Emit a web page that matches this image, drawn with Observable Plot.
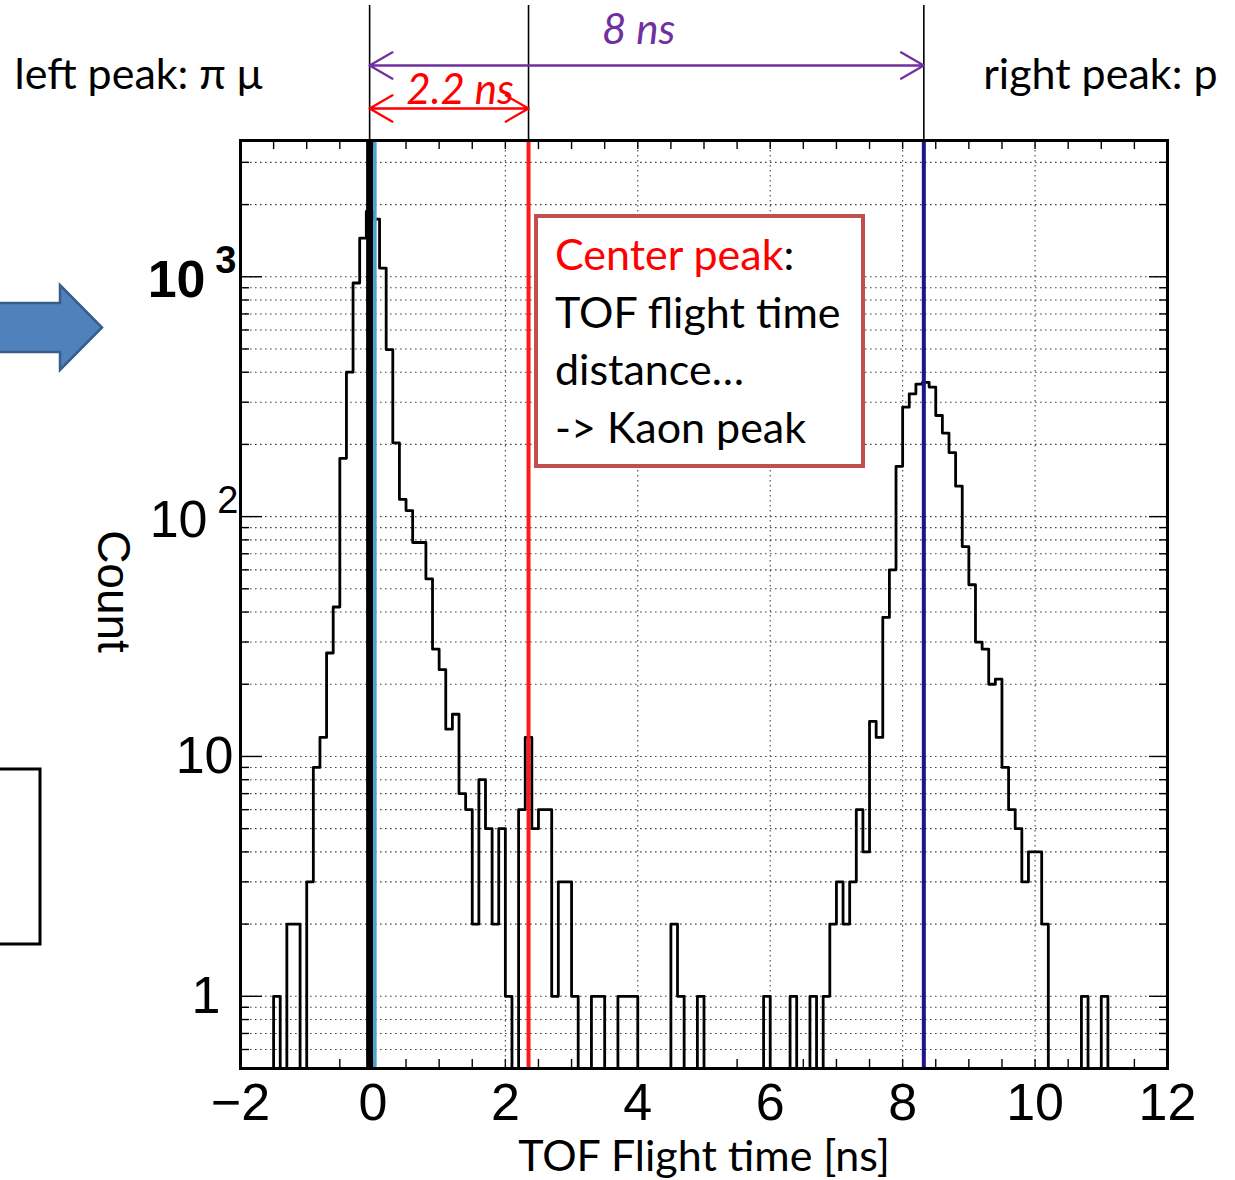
<!DOCTYPE html>
<html>
<head>
<meta charset="utf-8">
<script src="https://cdn.jsdelivr.net/npm/d3@7"></script>
<script src="https://cdn.jsdelivr.net/npm/@observablehq/plot@0.6"></script>
<style>
  html, body { margin: 0; padding: 0; background: #fff; }
  #wrap { position: relative; width: 1235px; height: 1180px; overflow: hidden; }
  #wrap svg { position: absolute; left: 0; top: 0; }
  .callout {
    position: absolute; left: 534px; top: 214px; width: 331px; height: 254px;
    box-sizing: border-box; border: 4px solid #c0504d; background: #fff;
    font-family: Lato, "Open Sans", sans-serif; font-size: 43px; line-height: 57.5px;
    padding: 7px 0 0 17px; color: #000; white-space: nowrap;
  }
  .callout .hl { color: #ff0000; }
</style>
</head>
<body>
<div id="wrap"></div>
<script>
// TOF histogram: 0.1 ns bins starting at -2 ns
const binStart = -2;
const binWidth = 0.1;
const counts = [
  0, 0, 0, 0, 0, 1, 0, 2, 2, 0,
  3, 9, 12, 27, 42, 175, 400, 942, 1449, 1872,
  1740, 1087, 497, 203, 118, 106, 78, 78, 55, 28,
  23, 13, 15, 7, 6, 2, 8, 5, 2, 5,
  1, 0, 6, 12, 5, 6, 6, 1, 3, 3,
  1, 0, 0, 1, 1, 0, 0, 1, 1, 1,
  0, 0, 0, 0, 0, 2, 1, 0, 0, 1,
  0, 0, 0, 0, 0, 0, 0, 0, 0, 1,
  0, 0, 0, 1, 0, 0, 1, 0, 1, 2,
  3, 2, 3, 6, 4, 14, 12, 38, 60, 162,
  286, 325, 357, 363, 347, 264, 223, 185, 134, 75,
  52, 30, 28, 20, 21, 9, 6, 5, 3, 4,
  4, 2, 0, 0, 0, 0, 0, 1, 0, 0,
  1, 0, 0, 0, 0, 0, 0, 0, 0, 0
];

// Peak marker positions [ns]
const piMuPeak = -0.05;
const piMuFit = 0.03;
const kaonPeak = 2.35;
const protonPeak = 8.32;

// Axis ticks and labels
const xTickValues = [-2, 0, 2, 4, 6, 8, 10, 12];
const xTickLabels = ["\u22122", "0", "2", "4", "6", "8", "10", "12"];
const xGridValues = [0, 2, 4, 6, 8, 10];
const xMinorTicks = d3.range(-1.5, 12, 0.5);
const yTickValues = [1, 10, 100, 1000];
const yTickMantissa = ["1", "10", "10", "10"];
const yTickExponent = ["", "", "2", "3"];
const yMinorValues = [0.6, 0.7, 0.8, 0.9, 2, 3, 4, 5, 6, 7, 8, 9,
  20, 30, 40, 50, 60, 70, 80, 90, 200, 300, 400, 500, 600, 700, 800, 900, 2000, 3000];
const yDomain = [0.5, 3700];

// Texts
const xLabel = "TOF Flight time [ns]";
const yLabel = "Count";
const leftNote = "left peak: \u03c0 \u03bc";
const rightNote = "right peak: p";
const kaonGap = "2.2 ns";
const protonGap = "8 ns";

const W = 1235, H = 1180;
const mL = 240, mR = 68, mT = 140, mB = 112;
const frameW = W - mL - mR, frameH = H - mT - mB;
const rootFont = "'Liberation Sans', Arial, Helvetica, sans-serif";
const slideFont = "Lato, 'Open Sans', sans-serif";

// step-line vertices: each bin start plus the closing edge; empty bins drop to the axis floor
const histPoints = counts.map((c, i) => ({t: binStart + i * binWidth, n: Math.max(c, yDomain[0])}));
histPoints.push({t: binStart + counts.length * binWidth, n: Math.max(counts[counts.length - 1], yDomain[0])});

const yLab = yTickValues.map((v, i) => ({v, m: yTickMantissa[i], e: yTickExponent[i]}));
const xLab = xTickValues.map((v, i) => ({v, t: xTickLabels[i]}));

const dotted = {stroke: "#444", strokeWidth: 1.1, strokeDasharray: "1.6,3.4"};
const mid = {lineAnchor: "middle"};

const chart = Plot.plot({
  width: W, height: H,
  marginLeft: mL, marginRight: mR, marginTop: mT, marginBottom: mB,
  x: {domain: [-2, 12], axis: null},
  y: {type: "log", domain: yDomain, axis: null},
  style: {background: "transparent", overflow: "visible"},
  marks: [
    // dotted grid
    Plot.ruleY(yMinorValues.concat(yTickValues), dotted),
    Plot.ruleX(xGridValues, dotted),
    // inner ticks, bottom and top
    Plot.ruleX(xMinorTicks, {insetTop: frameH - 9, stroke: "#000", strokeWidth: 1.4}),
    Plot.ruleX(xMinorTicks, {insetBottom: frameH - 9, stroke: "#000", strokeWidth: 1.4}),
    // inner ticks, left and right
    Plot.ruleY(yMinorValues, {insetRight: frameW - 9, stroke: "#000", strokeWidth: 1.4}),
    Plot.ruleY(yTickValues, {insetRight: frameW - 22, stroke: "#000", strokeWidth: 1.4}),
    Plot.ruleY(yMinorValues, {insetLeft: frameW - 8, stroke: "#000", strokeWidth: 1.4}),
    Plot.ruleY(yTickValues, {insetLeft: frameW - 18, stroke: "#000", strokeWidth: 1.4}),
    // histogram
    Plot.line(histPoints, {x: "t", y: "n", curve: "step-after", stroke: "#000", strokeWidth: 2.8}),
    // peak markers
    Plot.ruleX([piMuPeak], {stroke: "#000", strokeWidth: 7}),
    Plot.ruleX([piMuFit], {stroke: "#4ba3d2", strokeWidth: 3.5}),
    Plot.ruleX([kaonPeak], {stroke: "#ff1a1a", strokeWidth: 4}),
    Plot.ruleX([protonPeak], {stroke: "#1f1488", strokeWidth: 4}),
    Plot.frame({stroke: "#000", strokeWidth: 3}),
    // marker lines continued above the frame
    Plot.ruleX([piMuPeak, kaonPeak, protonPeak], {insetTop: -135, insetBottom: frameH, stroke: "#000", strokeWidth: 1.6}),
    // distance arrows (double-headed)
    Plot.arrow([{a: piMuPeak, b: protonPeak}, {a: protonPeak, b: piMuPeak}], {
      x1: "a", x2: "b", y1: yDomain[1], y2: yDomain[1], dy: -75,
      stroke: "#7030a0", strokeWidth: 2.2, headLength: 18, bend: 0
    }),
    Plot.arrow([{a: piMuPeak, b: kaonPeak}, {a: kaonPeak, b: piMuPeak}], {
      x1: "a", x2: "b", y1: yDomain[1], y2: yDomain[1], dy: -32,
      stroke: "#ff0000", strokeWidth: 2.2, headLength: 18, bend: 0
    }),
    Plot.text([protonGap], {...mid, x: [(piMuPeak + protonPeak) / 2], frameAnchor: "top", dx: -8, dy: -110,
      fill: "#7030a0", fontStyle: "italic", fontFamily: slideFont, fontSize: 42}),
    Plot.text([kaonGap], {...mid, x: [(piMuPeak + kaonPeak) / 2], frameAnchor: "top", dx: 11, dy: -50,
      fill: "#ff0000", fontStyle: "italic", fontFamily: slideFont, fontSize: 42}),
    Plot.text([leftNote], {...mid, frameAnchor: "top-left", textAnchor: "start", dx: -226, dy: -65,
      fill: "#000", fontFamily: slideFont, fontSize: 43}),
    Plot.text([rightNote], {...mid, frameAnchor: "top-right", textAnchor: "end", dx: 50, dy: -65,
      fill: "#000", fontFamily: slideFont, fontSize: 43}),
    // x tick labels and title
    Plot.text(xLab, {...mid, x: "v", text: "t", frameAnchor: "bottom", dy: 35, fontFamily: rootFont, fontSize: 52, fill: "#000"}),
    Plot.text([xLabel], {...mid, frameAnchor: "bottom", dy: 89, fontFamily: slideFont, fontSize: 43, fill: "#000"}),
    // y tick labels
    Plot.text(yLab.filter(d => d.m === "1"), {...mid, y: "v", text: "m", frameAnchor: "left", textAnchor: "end", dx: -20, fontFamily: rootFont, fontSize: 52, fill: "#000"}),
    Plot.text(yLab.filter(d => d.m === "10" && !d.e), {...mid, y: "v", text: "m", frameAnchor: "left", textAnchor: "end", dx: -7, fontFamily: rootFont, fontSize: 52, fill: "#000"}),
    Plot.text(yLab.filter(d => d.e === "2"), {...mid, y: "v", text: "m", frameAnchor: "left", textAnchor: "end", dx: -33, dy: 4, fontFamily: rootFont, fontSize: 52, fill: "#000"}),
    Plot.text(yLab.filter(d => d.e === "2"), {...mid, y: "v", text: "e", frameAnchor: "left", textAnchor: "end", dx: -2, dy: -16, fontFamily: rootFont, fontSize: 38, fill: "#000"}),
    Plot.text(yLab.filter(d => d.e === "3"), {...mid, y: "v", text: "m", frameAnchor: "left", textAnchor: "end", dx: -35, dy: 4, fontFamily: rootFont, fontSize: 52, fontWeight: 600, fill: "#000"}),
    Plot.text(yLab.filter(d => d.e === "3"), {...mid, y: "v", text: "e", frameAnchor: "left", textAnchor: "end", dx: -4, dy: -16, fontFamily: rootFont, fontSize: 38, fontWeight: 600, fill: "#000"}),
    Plot.text([yLabel], {...mid, frameAnchor: "left", textAnchor: "middle", rotate: 90, dx: -128, dy: -13, fontFamily: rootFont, fontSize: 46, fill: "#000"})
  ]
});

const wrap = document.getElementById("wrap");
wrap.appendChild(chart);

// slide decorations at the left edge: block arrow pointing at the plot and a framed box
const deco = d3.select(chart).append("g");
deco.append("path")
  .attr("d", "M-6,303 L60,303 L60,285 L102,327.5 L60,370 L60,352 L-6,352 Z")
  .attr("fill", "#4f81bd").attr("stroke", "#385d8a").attr("stroke-width", 2.5);
deco.append("path")
  .attr("d", "M-6,769 L40,769 L40,944 L-6,944")
  .attr("fill", "none").attr("stroke", "#000").attr("stroke-width", 3);

// callout describing the middle peak
const callout = document.createElement("div");
callout.className = "callout";
callout.innerHTML = '<span class="hl">Center peak</span>:<br>TOF flight time<br>distance\u2026<br>-&gt; Kaon peak';
wrap.appendChild(callout);
</script>
</body>
</html>
